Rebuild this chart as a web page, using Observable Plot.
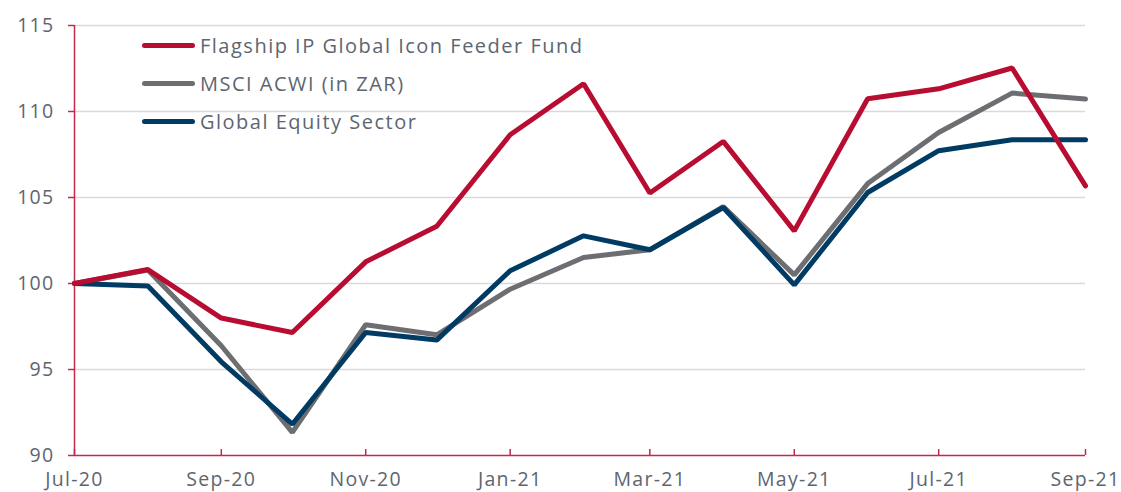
<!DOCTYPE html>
<html><head><meta charset="utf-8">
<script src="https://cdn.jsdelivr.net/npm/d3@7"></script>
<script src="https://cdn.jsdelivr.net/npm/@observablehq/plot@0.6"></script>
<style>
html,body{margin:0;padding:0;background:#fff;}
#wrap{position:relative;width:1121px;height:492px;font-family:"Open Sans", Lato, sans-serif;}
#wrap svg text{letter-spacing:1.3px;}
.legend{position:absolute;left:142px;top:26px;}
.row{display:flex;align-items:center;height:38px;}
.sw{width:53px;height:5px;border-radius:3px;margin-right:5px;}
.lbl{font-size:20px;color:#5d6670;letter-spacing:1.5px;}
</style></head><body><div id="wrap"></div>
<script>
const months = ["2020-07","2020-08","2020-09","2020-10","2020-11","2020-12","2021-01","2021-02","2021-03","2021-04","2021-05","2021-06","2021-07","2021-08","2021-09"];
const seriesNames = ["Flagship IP Global Icon Feeder Fund","MSCI ACWI (in ZAR)","Global Equity Sector"];
const fund   = [100, 100.81, 97.99, 97.15, 101.26, 103.33, 108.65, 111.61, 105.26, 108.26, 103.06, 110.74, 111.32, 112.53, 105.68];
const msci   = [100, 100.78, 96.38, 91.34, 97.60, 97.02, 99.67, 101.51, 101.96, 104.47, 100.50, 105.81, 108.78, 111.07, 110.72];
const sector = [100, 99.85, 95.45, 91.82, 97.15, 96.71, 100.74, 102.77, 101.96, 104.42, 99.92, 105.29, 107.72, 108.36, 108.36];
const yTicks = [90, 95, 100, 105, 110, 115];
const colors = ["#b80c31", "#6d6e71", "#003b64"];
const axisRed = "#c4284b";
const textColor = "#5d6670";

const parse = d3.utcParse("%Y-%m");
const dates = months.map(parse);
const allSeries = [fund, msci, sector];
const rows = [];
allSeries.forEach((vals, s) => vals.forEach((v, i) => rows.push({date: dates[i], value: v, series: seriesNames[s]})));
const tickDates = d3.utcMonth.every(2).range(dates[0], d3.utcMonth.offset(dates[dates.length-1], 1));

const drawOrder = [1, 2, 0];
const lineMarks = drawOrder.map(s => Plot.line(rows.filter(r => r.series === seriesNames[s]), {
  x: "date", y: "value", stroke: colors[s], strokeWidth: 5, strokeLinejoin: "miter", strokeLinecap: "round"
}));

const chart = Plot.plot({
  width: 1121, height: 492,
  marginLeft: 74, marginRight: 36, marginTop: 25, marginBottom: 37,
  style: {fontFamily: "'Open Sans', Lato, sans-serif", fontSize: "19.5px", background: "white", overflow: "visible"},
  x: {type: "utc", domain: [dates[0], dates[dates.length-1]]},
  y: {domain: [90, 115]},
  marks: [
    Plot.ruleY(yTicks.filter(t => t > 90), {stroke: "#d9d9d9", strokeWidth: 1.5}),
    Plot.axisY({ticks: yTicks, tickSize: 6, tickPadding: 14, stroke: axisRed, fill: textColor, tickFormat: d => d, label: null, strokeWidth: 1.5}),
    Plot.axisX({ticks: tickDates, tickSize: 6, dy: -6, text: null, stroke: axisRed, strokeWidth: 1.5, label: null}),
    Plot.axisX({ticks: tickDates, tickSize: 0, tickPadding: 17, fill: textColor, tickFormat: d3.utcFormat("%b-%y"), label: null}),
    Plot.ruleY([90], {stroke: axisRed, strokeWidth: 1.5}),
    Plot.ruleX([dates[0]], {stroke: axisRed, strokeWidth: 1.5}),
    ...lineMarks
  ]
});
const wrap = document.getElementById("wrap");
wrap.appendChild(chart);
const legend = document.createElement("div");
legend.className = "legend";
seriesNames.forEach((name, i) => {
  const row = document.createElement("div");
  row.className = "row";
  row.innerHTML = `<div class="sw" style="background:${colors[i]}"></div><span class="lbl">${name}</span>`;
  legend.appendChild(row);
});
wrap.appendChild(legend);
</script>
</body></html>
